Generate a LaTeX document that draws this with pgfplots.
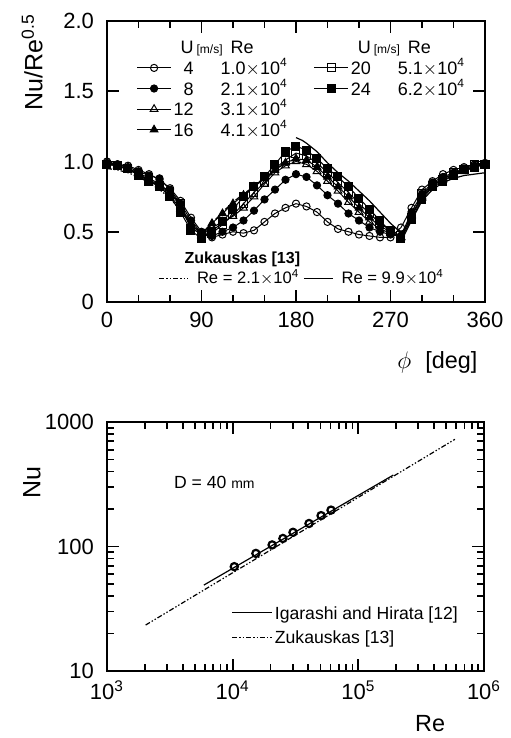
\documentclass[border=0pt]{standalone}
\usepackage{fontspec}
\setmainfont{Liberation Sans}
\usepackage{pgfplots}
\usepackage{pgfplotstable}
\pgfplotsset{compat=1.18}

% local Nu/Re^0.5 around the cylinder, one column per velocity
\pgfplotstableread{
phi  c4   c8   c12  c16  c20  c24
0    1.00 0.99 0.99 0.99 0.98 0.98
10   0.98 0.98 0.97 0.97 0.97 0.97
20   0.97 0.96 0.95 0.94 0.95 0.95
30   0.94 0.93 0.92 0.91 0.91 0.90
40   0.91 0.90 0.88 0.87 0.86 0.86
50   0.87 0.88 0.84 0.83 0.83 0.82
60   0.81 0.80 0.78 0.76 0.78 0.75
70   0.72 0.70 0.68 0.66 0.70 0.64
80   0.60 0.58 0.56 0.54 0.52 0.51
90   0.50 0.49 0.48 0.47 0.49 0.45
100  0.46 0.47 0.53 0.56 0.49 0.50
110  0.48 0.50 0.57 0.63 0.55 0.57
120  0.50 0.53 0.61 0.70 0.62 0.66
130  0.49 0.58 0.67 0.76 0.70 0.75
140  0.51 0.65 0.75 0.82 0.78 0.82
150  0.57 0.73 0.84 0.88 0.85 0.89
160  0.63 0.80 0.92 0.94 0.95 0.98
170  0.67 0.87 0.97 0.99 1.01 1.07
180  0.70 0.91 1.00 1.02 1.06 1.11
190  0.68 0.89 0.98 1.01 1.04 1.08
200  0.64 0.83 0.93 0.96 0.99 1.02
210  0.57 0.76 0.86 0.89 0.92 0.95
220  0.52 0.70 0.79 0.82 0.85 0.89
230  0.50 0.63 0.71 0.75 0.78 0.82
240  0.48 0.58 0.64 0.67 0.70 0.74
250  0.47 0.53 0.57 0.60 0.63 0.66
260  0.46 0.50 0.52 0.54 0.56 0.58
270  0.46 0.48 0.49 0.50 0.51 0.50
280  0.53 0.47 0.46 0.46 0.47 0.45
290  0.67 0.64 0.62 0.61 0.60 0.59
300  0.80 0.77 0.75 0.74 0.77 0.73
310  0.86 0.85 0.84 0.83 0.83 0.82
320  0.91 0.89 0.88 0.87 0.87 0.86
330  0.94 0.92 0.91 0.90 0.92 0.90
340  0.96 0.95 0.94 0.93 0.94 0.94
350  0.98 0.97 0.96 0.96 0.98 0.96
360  0.99 0.98 0.98 0.98 0.98 0.98
}\phidata

\pgfplotstableread{
phi  v
0    0.95
10   0.94
20   0.92
30   0.89
40   0.85
50   0.80
60   0.74
70   0.65
80   0.55
90   0.49
100  0.56
110  0.64
120  0.71
130  0.77
140  0.82
150  0.88
160  0.94
170  0.99
180  1.02
}\zukA

\pgfplotstableread{
phi  v
180  1.17
186  1.15
190  1.13
200  1.07
210  0.99
220  0.92
230  0.86
240  0.79
250  0.72
260  0.64
270  0.56
276  0.52
282  0.46
290  0.58
300  0.72
310  0.80
320  0.85
330  0.88
340  0.90
350  0.91
360  0.92
}\zukB

% mean Nu against Re
\pgfplotstableread{
Re     Nu
10300  68.9
15300  88
20600  103
25100  116
30200  130
40500  153
50500  177
60600  196
}\nudata

\pgfplotstableread{
Re      Nu
2030    23.4
587000  726
}\nuzuk

\pgfplotstableread{
Re      Nu
5900    49
190000  375
}\nuiga

\pgfplotsset{
  dashdd/.style={black, line width=0.6pt,
    dash pattern=on 2.5pt off 1pt on 0.7pt off 1pt on 0.7pt off 1pt},
  s4/.style={black, line width=0.5pt, mark=o, mark size=1.8pt, mark options={fill=white, solid}},
  s8/.style={black, line width=0.5pt, mark=*, mark size=1.8pt, mark options={fill=black, solid}},
  s12/.style={black, line width=0.5pt, mark=triangle, mark size=2.2pt, mark options={fill=white, solid}},
  s16/.style={black, line width=0.5pt, mark=triangle*, mark size=2.2pt, mark options={fill=black, solid}},
  s20/.style={black, line width=0.5pt, mark=square, mark size=2pt, mark options={fill=white, solid}},
  s24/.style={black, line width=0.5pt, mark=square*, mark size=2pt, mark options={fill=black, solid}},
  frame/.style={
    scale only axis,
    axis line style={line width=1.2pt},
    every tick/.style={black, line width=0.9pt},
    major tick length=6pt, minor tick length=3.5pt,
    tick label style={font=\fontsize{11}{13}\selectfont},
    xticklabel style={yshift=-1.5pt},
    yticklabel style={xshift=-3pt},
    xlabel style={font=\fontsize{11.7}{14}\selectfont},
    ylabel style={font=\fontsize{12.5}{15}\selectfont},
  },
}

\newcommand{\ent}[2]{\makebox[10pt][r]{#1}\hspace{13.5pt}#2}
\newcommand{\hdr}{\makebox[10pt][r]{U}\rlap{\,{\fontsize{6}{7}\selectfont[m/s]}}\hspace{18.5pt}Re}
\newcommand{\tfour}{$\times$10\textsuperscript{4}}

\begin{document}
\begin{tikzpicture}
\useasboundingbox (-53.5pt,-33.5pt) rectangle (201.5pt,335.5pt);

% Zukauskas curves of the upper chart, with their own legend
\begin{axis}[
  at={(0,184.5pt)}, anchor=south west,
  scale only axis, width=189pt, height=140.5pt,
  xmin=0, xmax=360, ymin=0, ymax=2,
  hide axis,
  legend columns=2,
  legend style={at={(0.136,0.085)}, anchor=west, draw=none, fill=none,
    inner sep=0pt, font=\fontsize{8.3}{9}\selectfont,
    nodes={inner sep=1pt},
    /tikz/every even column/.append style={column sep=1pt}},
  legend image code/.code={\draw[#1] (0pt,0pt) -- (14.5pt,0pt); \path (17.5pt,0pt);},
]
\addplot[dashdd] table[x=phi, y=v] {\zukA};
\addplot[black, line width=0.6pt] table[x=phi, y=v] {\zukB};
\legend{Re = 2.1\tfour, Re = 9.9\tfour}
\node[font=\bfseries\fontsize{8}{9}\selectfont] at (axis description cs:0.358,0.153) {Zukauskas [13]};
\end{axis}

% upper chart
\begin{axis}[
  frame,
  at={(0,184.5pt)}, anchor=south west,
  width=189pt, height=140.5pt,
  xmin=0, xmax=360, ymin=0, ymax=2,
  xtick={0,90,180,270,360}, minor x tick num=2,
  ytick={0,0.5,1,1.5,2}, yticklabels={0,0.5,1.0,1.5,2.0},
  /pgf/number format/assume math mode=true,
  xlabel={$\phi$\hspace{7pt}[deg]},
  xlabel style={at={(axis description cs:0.874,0)}, anchor=center, yshift=-30pt},
  ylabel={Nu/Re\textsuperscript{0.5}},
  ylabel style={at={(axis description cs:-0.198,0.854)}, anchor=center},
  legend columns=2,
  legend cell align=left,
  legend style={at={(0.077,0.938)}, anchor=north west, draw=none, fill=none,
    inner sep=0pt, font=\fontsize{9}{9}\selectfont,
    nodes={inner sep=1pt, text height=6.5pt, text depth=0pt},
    row sep=1.8pt,
    /tikz/every even column/.append style={column sep=12pt}},
]
\addplot[s4, forget plot] table[x=phi, y=c4] {\phidata};
\addplot[s8, forget plot] table[x=phi, y=c8] {\phidata};
\addplot[s12, forget plot] table[x=phi, y=c12] {\phidata};
\addplot[s16, forget plot] table[x=phi, y=c16] {\phidata};
\addplot[s20, forget plot] table[x=phi, y=c20] {\phidata};
\addplot[s24, forget plot] table[x=phi, y=c24] {\phidata};

\addlegendimage{empty legend}\addlegendentry{\hdr}
\addlegendimage{empty legend}\addlegendentry{\hdr}
\addlegendimage{s4}\addlegendentry{\ent{4}{1.0\tfour}}
\addlegendimage{s20}\addlegendentry{\ent{20}{5.1\tfour}}
\addlegendimage{s8}\addlegendentry{\ent{8}{2.1\tfour}}
\addlegendimage{s24}\addlegendentry{\ent{24}{6.2\tfour}}
\addlegendimage{s12}\addlegendentry{\ent{12}{3.1\tfour}}
\addlegendimage{empty legend}\addlegendentry{}
\addlegendimage{s16}\addlegendentry{\ent{16}{4.1\tfour}}
\addlegendimage{empty legend}\addlegendentry{}
\end{axis}

% lower chart
\begin{axis}[
  frame,
  at={(0,0)}, anchor=south west,
  width=188.5pt, height=124.5pt,
  xmode=log, ymode=log,
  xmin=1e3, xmax=1e6, ymin=10, ymax=1000,
  xtick={1e3,1e4,1e5,1e6},
  xticklabels={10\textsuperscript{3},10\textsuperscript{4},10\textsuperscript{5},10\textsuperscript{6}},
  ytick={10,100,1000}, yticklabels={10,100,1000},
  xlabel={Re},
  xlabel style={at={(axis description cs:0.857,0)}, anchor=center, yshift=-26.5pt},
  ylabel={Nu},
  ylabel style={at={(axis description cs:-0.199,0.755)}, anchor=center},
  legend cell align=left,
  legend style={at={(0.937,0.10)}, anchor=south east, draw=none, fill=none,
    inner sep=0pt, font=\fontsize{8.8}{10}\selectfont,
    nodes={inner sep=1pt, text height=6.5pt, text depth=0pt}, row sep=3.7pt},
  legend image code/.code={\draw[#1] (0pt,0pt) -- (20pt,0pt);},
]
\addplot[black, line width=0.6pt] table[x=Re, y=Nu] {\nuiga};
\addplot[dashdd] table[x=Re, y=Nu] {\nuzuk};
\addplot[only marks, mark=o, mark size=1.8pt, mark options={line width=1.1pt}, forget plot] table[x=Re, y=Nu] {\nudata};
\legend{Igarashi and Hirata [12], Zukauskas [13]}
\node[anchor=west, font=\fontsize{8.8}{10}\selectfont] at (axis cs:3000,324) {D = 40 {\fontsize{7}{8}\selectfont mm}};
\end{axis}
\end{tikzpicture}
\end{document}
